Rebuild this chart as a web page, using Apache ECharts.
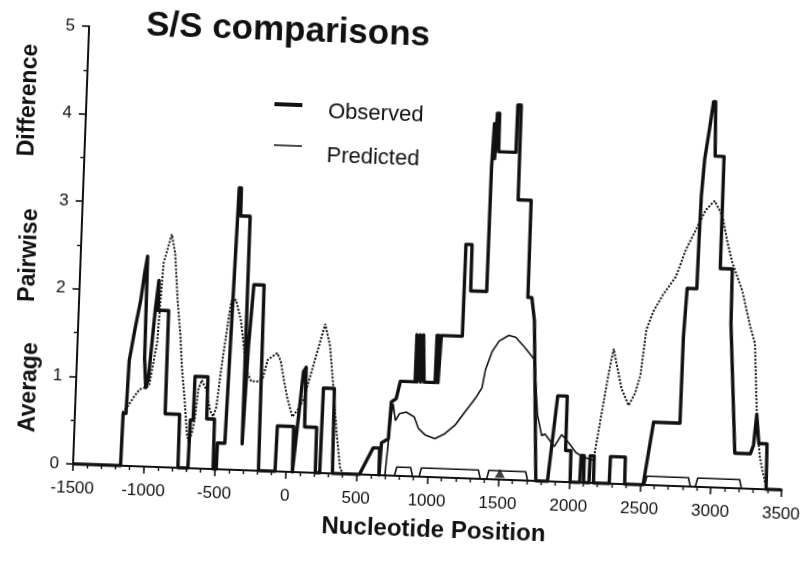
<!DOCTYPE html>
<html>
<head>
<meta charset="utf-8">
<script src="https://cdn.jsdelivr.net/npm/echarts@6/dist/echarts.min.js"></script>
<style>
  html, body { margin: 0; padding: 0; background: #fff; overflow: hidden; }
  #chart {
    width: 811px; height: 562px; background: #fff;
    transform: rotate(2.1deg); transform-origin: 405px 281px;
  }
</style>
</head>
<body>
<div id="chart"></div>
<script>
// Observed average pairwise difference (sliding window, step profile)
const observed = [
  [-1500,0],[-1165,0],[-1160,0.6],[-1140,0.6],[-1131,1.2],[-1100,1.55],[-1065,1.9],[-1045,2.2],
  [-1028,2.4],[-1025,2.4],[-1023,1.23],[-1008,0.9],[-992,1.0],[-960,1.8],[-942,2.13],[-940,1.79],
  [-866,1.79],[-864,0.61],[-762,0.61],[-760,0],
  [-690,0],[-685,0.55],[-665,0.55],[-663,1.05],[-572,1.05],[-570,0.57],[-515,0.57],[-512,0],
  [-490,0],[-488,0.3],[-436,0.3],[-400,3.22],[-385,3.22],[-383,2.9],[-316,2.9],[-314,0.3],
  [-305,0.3],[-295,1.4],[-285,1.4],[-272,2.12],[-200,2.12],[-192,0],
  [-75,0],[-70,0.52],[45,0.52],[47,0],[55,0],[100,1.15],[118,1.2],[122,0.52],[207,0.52],[209,0],
  [240,0],[245,0.97],[322,0.97],[330,0],
  [520,0],[611,0.31],[656,0.31],[658,0],[666,0],[668,0.37],[715,0.42],[727,0.84],[760,0.88],
  [785,1.08],[889,1.08],[890,1.62],[900,1.62],[902,1.08],[912,1.08],[914,1.62],[925,1.62],
  [927,1.08],[935,1.08],[937,1.62],[950,1.62],[952,1.08],[1030,1.08],[1032,1.62],[1048,1.62],
  [1050,1.08],[1060,1.08],[1062,1.62],[1210,1.62],[1212,2.67],[1255,2.67],[1257,2.14],
  [1370,2.14],[1372,3.55],[1380,3.55],[1382,4.06],[1390,4.06],[1392,3.66],[1398,3.66],
  [1400,4.18],[1416,4.18],[1418,3.74],[1540,3.74],[1542,4.28],[1566,4.28],[1568,3.2],
  [1660,3.2],[1662,2.09],[1690,2.09],[1714,1.83],[1765,0],
  [1847,0],[1898,0.98],[1965,0.98],[1967,0.36],[2005,0.36],[2007,0],[2075,0],[2078,0.31],
  [2100,0.31],[2102,0],[2140,0],[2142,0.31],[2170,0.31],[2172,0],[2283,0],[2285,0.31],
  [2390,0.31],[2392,0],
  [2522,0],[2580,0.72],[2766,0.72],[2768,1.7],[2780,1.7],[2782,2.26],[2850,2.26],[2853,2.81],
  [2858,3.32],[2872,3.74],[2900,4.11],[2920,4.4],[2935,4.4],[2945,3.78],[3008,3.78],
  [3010,2.5],[3095,2.5],[3100,1.87],[3160,0.4],[3270,0.4],[3290,0.5],[3305,0.85],[3315,0.85],
  [3327,0.52],[3385,0.52],[3390,0],[3500,0]
];

// Predicted profile, upstream part (drawn dotted)
const predictedLeft = [
  [-1165,0.61],[-1130,0.68],[-1085,0.8],[-1050,0.88],[-985,0.92],[-939,1.42],[-914,2.33],
  [-863,2.66],[-835,2.45],[-805,1.9],[-778,1.53],[-758,1.15],[-730,0.77],[-706,0.39],[-692,0.3],
  [-671,0.4],[-652,0.59],[-637,0.9],[-615,1.01],[-579,0.9],[-549,0.67],[-525,0.6],[-505,0.71],
  [-480,1.16],[-454,1.54],[-428,1.92],[-394,1.94],[-353,1.7],[-319,1.32],[-291,1.1],[-266,1.02],
  [-220,1.02],[-185,1.06],[-155,1.27],[-89,1.35],[-63,1.26],[-34,1.03],[-7,0.84],[33,0.63],
  [77,0.73],[109,0.84],[150,1.11],[190,1.37],[241,1.7],[281,1.45],[316,0.96],[351,0.44],
  [383,0.06],[407,0]
];

// Predicted profile, central part (drawn solid)
const predictedMiddle = [
  [407,0],[700,0],[727,0.65],[740,0.82],[760,0.63],[787,0.71],[834,0.73],[892,0.68],[924,0.55],
  [972,0.48],[1042,0.44],[1111,0.5],[1180,0.6],[1245,0.75],[1315,0.91],[1362,1.04],
  [1382,1.25],[1425,1.46],[1470,1.58],[1538,1.65],[1587,1.63],[1658,1.51],[1725,1.38],
  [1760,0.75],[1795,0.52],[1817,0.54],[1887,0.4],[1936,0.54],[1992,0.44],[2041,0.34],
  [2096,0.29],[2166,0.26]
];

// Predicted profile, downstream part (drawn dotted)
const predictedRight = [
  [2166,0.26],[2207,0.75],[2252,1.27],[2280,1.54],[2300,1.4],[2345,1.09],[2399,0.9],
  [2442,1.04],[2475,1.25],[2505,1.77],[2549,1.98],[2614,2.18],[2700,2.39],[2763,2.7],
  [2853,3.02],[2892,3.16],[2953,3.27],[3012,3.1],[3053,2.81],[3094,2.57],[3170,2.26],
  [3235,1.86],[3274,1.66],[3309,0.75],[3339,0.35],[3380,0.08],[3395,0]
];

// Coding regions marked along the baseline: [start, end, box height]
const regions = [
  [767,895,0.1],[941,1373,0.1],[1417,1707,0.1],[2532,2855,0.1],[2890,3216,0.1]
];

// Site marker on the baseline
const markers = [[1510,0.07]];

const xTickLabels = { min: -1500, max: 3500, step: 500 };
const yTickLabels = { min: 0, max: 5, step: 1 };

const INK = '#111';
const FONT = '"Liberation Sans", Arial, Helvetica, sans-serif';

const chart = echarts.init(document.getElementById('chart'), null, { renderer: 'canvas' });

chart.setOption({
  animation: false,
  backgroundColor: '#fff',
  grid: { left: 80, right: 14, top: 38, bottom: 86, containLabel: false },
  xAxis: {
    type: 'value',
    min: xTickLabels.min, max: xTickLabels.max, interval: xTickLabels.step,
    name: 'Nucleotide Position',
    nameLocation: 'middle',
    nameGap: 41,
    nameTextStyle: { fontFamily: FONT, fontSize: 24, fontWeight: 'bold', color: INK, padding: [0, 0, 0, 16] },
    axisLine: { show: true, onZero: false, lineStyle: { color: INK, width: 2.2 } },
    axisTick: { show: true, length: 7, lineStyle: { color: INK, width: 1.6 } },
    minorTick: { show: true, splitNumber: 5, length: 4, lineStyle: { color: INK, width: 1.4 } },
    splitLine: { show: false },
    axisLabel: { margin: 16, fontFamily: FONT, fontSize: 17, color: INK, formatter: v => String(v) }
  },
  yAxis: {
    type: 'value',
    min: yTickLabels.min, max: yTickLabels.max, interval: yTickLabels.step,
    axisLine: { show: true, onZero: false, lineStyle: { color: INK, width: 2 } },
    axisTick: { show: true, length: 7, lineStyle: { color: INK, width: 1.6 } },
    minorTick: { show: true, splitNumber: 2, length: 4, lineStyle: { color: INK, width: 1.4 } },
    splitLine: { show: false },
    axisLabel: { margin: 14, fontFamily: FONT, fontSize: 17, color: INK, formatter: v => String(v) }
  },
  graphic: [
    { type: 'text', left: 137, top: 18, style: { text: 'S/S comparisons', font: 'bold 35px ' + FONT, fill: INK } },
    { type: 'text', x: 34, y: 401, rotation: Math.PI / 2, style: { text: 'Average', font: 'bold 23px ' + FONT, fill: INK, align: 'center', verticalAlign: 'middle' } },
    { type: 'text', x: 29, y: 269, rotation: Math.PI / 2, style: { text: 'Pairwise', font: 'bold 23px ' + FONT, fill: INK, align: 'center', verticalAlign: 'middle' } },
    { type: 'text', x: 23, y: 114, rotation: Math.PI / 2, style: { text: 'Difference', font: 'bold 23px ' + FONT, fill: INK, align: 'center', verticalAlign: 'middle' } },
    { type: 'line', shape: { x1: 268, y1: 109, x2: 296, y2: 109 }, style: { stroke: INK, lineWidth: 4 } },
    { type: 'text', x: 322, y: 115, style: { text: 'Observed', font: '22px ' + FONT, fill: INK, verticalAlign: 'middle' } },
    { type: 'line', shape: { x1: 269, y1: 150, x2: 297, y2: 150 }, style: { stroke: INK, lineWidth: 1.5 } },
    { type: 'text', x: 322, y: 159, style: { text: 'Predicted', font: '22px ' + FONT, fill: INK, verticalAlign: 'middle' } }
  ],
  series: [
    {
      name: 'Predicted', type: 'line', data: predictedMiddle, symbol: 'none', z: 3,
      lineStyle: { color: INK, width: 1.6 }
    },
    {
      name: 'Predicted', type: 'line', data: predictedLeft, symbol: 'none', z: 3,
      lineStyle: { color: INK, width: 2, type: [2, 1.6] }
    },
    {
      name: 'Predicted', type: 'line', data: predictedRight, symbol: 'none', z: 3,
      lineStyle: { color: INK, width: 2, type: [2, 1.6] }
    },
    {
      name: 'Observed', type: 'line', data: observed, symbol: 'none', z: 4,
      lineStyle: { color: INK, width: 3.4, join: 'round' }
    },
    {
      name: 'Regions', type: 'custom', data: regions, z: 5,
      encode: { x: [0, 1], y: 2 },
      renderItem: function (params, api) {
        const s = api.value(0), e = api.value(1), h = api.value(2);
        const pts = [api.coord([s, 0]), api.coord([s + 15, h]), api.coord([e - 15, h]), api.coord([e, 0])];
        return { type: 'polyline', shape: { points: pts }, style: { stroke: INK, fill: null, lineWidth: 1.6 } };
      }
    },
    {
      name: 'Site', type: 'scatter', data: markers, symbol: 'triangle', symbolSize: [10, 9], z: 6,
      itemStyle: { color: INK }
    }
  ]
});
</script>
</body>
</html>
